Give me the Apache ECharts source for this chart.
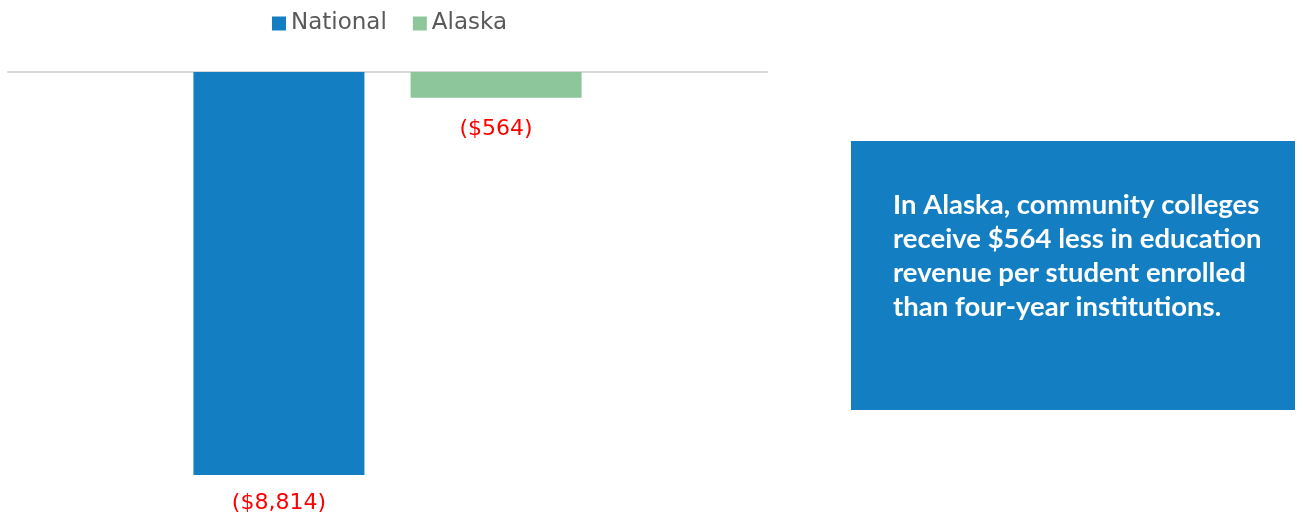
<!DOCTYPE html>
<html>
<head>
<meta charset="utf-8">
<title>Education revenue gap</title>
<script src="https://cdn.jsdelivr.net/npm/echarts@6/dist/echarts.min.js"></script>
<style>
  html, body { margin: 0; padding: 0; background: #fff; }
  #chart { width: 1303px; height: 520px; }
</style>
</head>
<body>
<div id="chart"></div>
<script>
// data
var categories = [''];
var seriesNames = ['National', 'Alaska'];
var nationalValues = [-8814];
var alaskaValues = [-564];
var calloutLines = [
    'In Alaska, community colleges',
    'receive $564 less in education',
    'revenue per student enrolled',
    'than four-year institutions.'
];

var myChart = echarts.init(document.getElementById('chart'));

function fmt(v) {
    var s = Math.abs(v).toLocaleString('en-US');
    return v < 0 ? '($' + s + ')' : '$' + s;
}

function labelStyle(dist) {
    return {
        show: true,
        position: 'bottom',
        distance: dist,
        color: '#ff0000',
        fontFamily: 'DejaVu Sans',
        fontSize: 22,
        formatter: function (p) { return fmt(p.value); }
    };
}

var option = {
    animation: false,
    legend: {
        data: seriesNames,
        left: 267,
        top: 7,
        itemWidth: 14,
        itemHeight: 14,
        itemGap: 26,
        icon: 'rect',
        textStyle: { fontFamily: 'DejaVu Sans', fontSize: 23, color: '#595959' }
    },
    grid: { left: 8, right: 536, top: 72, bottom: 36.5 },
    xAxis: {
        type: 'category',
        data: categories,
        position: 'top',
        axisLine: { lineStyle: { color: '#d9d9d9', width: 2 } },
        axisTick: { show: false },
        axisLabel: { show: false }
    },
    yAxis: {
        type: 'value',
        min: -9000,
        max: 0,
        show: false,
        splitLine: { show: false }
    },
    series: [
        {
            name: seriesNames[0],
            type: 'bar',
            data: nationalValues,
            barWidth: 171,
            barGap: '27%',
            itemStyle: { color: '#137fc2' },
            label: labelStyle(17)
        },
        {
            name: seriesNames[1],
            type: 'bar',
            data: alaskaValues,
            barWidth: 171,
            itemStyle: { color: '#8dc69b' },
            label: labelStyle(20)
        }
    ],
    graphic: [
        {
            type: 'rect',
            left: 851,
            top: 141,
            shape: { width: 444, height: 269 },
            style: { fill: '#137fc2' }
        },
        {
            type: 'text',
            left: 893,
            top: 188,
            style: {
                text: calloutLines.join('\n'),
                fill: '#ffffff',
                fontFamily: 'Lato',
                fontWeight: 'bold',
                fontSize: 27.5,
                lineHeight: 34
            }
        }
    ]
};

myChart.setOption(option);
</script>
</body>
</html>
